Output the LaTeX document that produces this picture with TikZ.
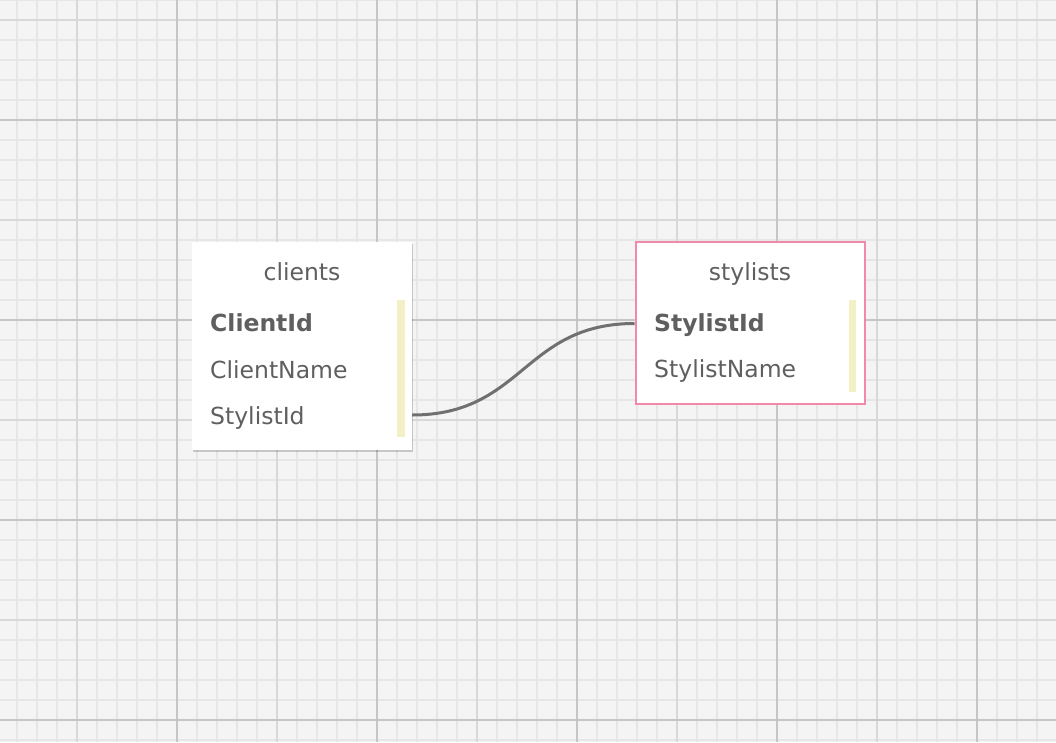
\documentclass[tikz,border=0pt]{standalone}
\usepackage{fontspec}
\setmainfont{DejaVu Sans}
\usetikzlibrary{shadows}
\definecolor{bg}{HTML}{F4F4F4}
\definecolor{gminor}{HTML}{E6E6E6}
\definecolor{gmid}{HTML}{D8D8D8}
\definecolor{gmajor}{HTML}{C6C6C6}
\definecolor{txt}{HTML}{5F5F5F}
\definecolor{bar}{HTML}{F3F0C8}
\definecolor{pinkb}{HTML}{F08AA8}
\definecolor{conncol}{HTML}{707070}
\tikzset{
  tablebox/.style={draw=none, fill=white, rectangle, inner sep=0pt,
    drop shadow={shadow xshift=0.5pt, shadow yshift=-1.5pt, opacity=0.18, fill=black}},
  selbox/.style={draw=pinkb, line width=2pt, fill=white, rectangle, inner sep=0pt,
    drop shadow={shadow xshift=0.5pt, shadow yshift=-1.5pt, opacity=0.18, fill=black}},
  title/.style={anchor=base, text=txt, inner sep=0pt, font=\fontsize{23.5}{28}\selectfont},
  row/.style={anchor=base west, text=txt, inner sep=0pt, font=\fontsize{23.5}{28}\selectfont},
  keyrow/.style={row, font=\fontsize{23.5}{28}\selectfont\bfseries},
  conn/.style={draw=conncol, line width=3pt},
  barfill/.style={fill=bar, draw=none}
}
\begin{document}
\begin{tikzpicture}[x=1pt, y=-1pt]
\useasboundingbox (0,0) rectangle (1056,742);
\fill[bg] (0,0) rectangle (1056,742);
% minor grid
\foreach \x in {17,37,...,1057} \draw[gminor, line width=2pt] (\x,0) -- (\x,742);
\foreach \y in {0,20,...,742} \draw[gminor, line width=2pt] (0,\y) -- (1056,\y);
% medium grid
\foreach \x in {77,277,477,677,877} \draw[gmid, line width=2pt] (\x,0) -- (\x,742);
\foreach \y in {20,220,420,620} \draw[gmid, line width=2pt] (0,\y) -- (1056,\y);
% major grid
\foreach \x in {177,377,577,777,977} \draw[gmajor, line width=2pt] (\x,0) -- (\x,742);
\foreach \y in {120,320,520,720} \draw[gmajor, line width=2pt] (0,\y) -- (1056,\y);

% clients table
\node[tablebox, minimum width=220pt, minimum height=208pt] (clients) at (302,346) {};
\fill[barfill] (397,300) rectangle (405,437);
\node[title] (ctitle) at (302,280) {clients};
\node[keyrow] (c1) at (210,331.5) {ClientId};
\node[row] (c2) at (210,378) {ClientName};
\node[row] (c3) at (210,424) {StylistId};

% stylists table
\node[selbox, minimum width=229pt, minimum height=162pt] (stylists) at (750,322.5) {};
\fill[barfill] (848.5,300) rectangle (856,391.5);
\node[title] (stitle) at (750,280) {stylists};
\node[keyrow] (s1) at (654,331.5) {StylistId};
\node[row] (s2) at (654,377.5) {StylistName};

% connector
\coordinate (pc) at (0,415);
\coordinate (ps) at (0,323.5);
\draw[conn] (clients.east |- pc) .. controls +(111,0) and +(-111,0) .. (stylists.west |- ps);
\end{tikzpicture}
\end{document}
